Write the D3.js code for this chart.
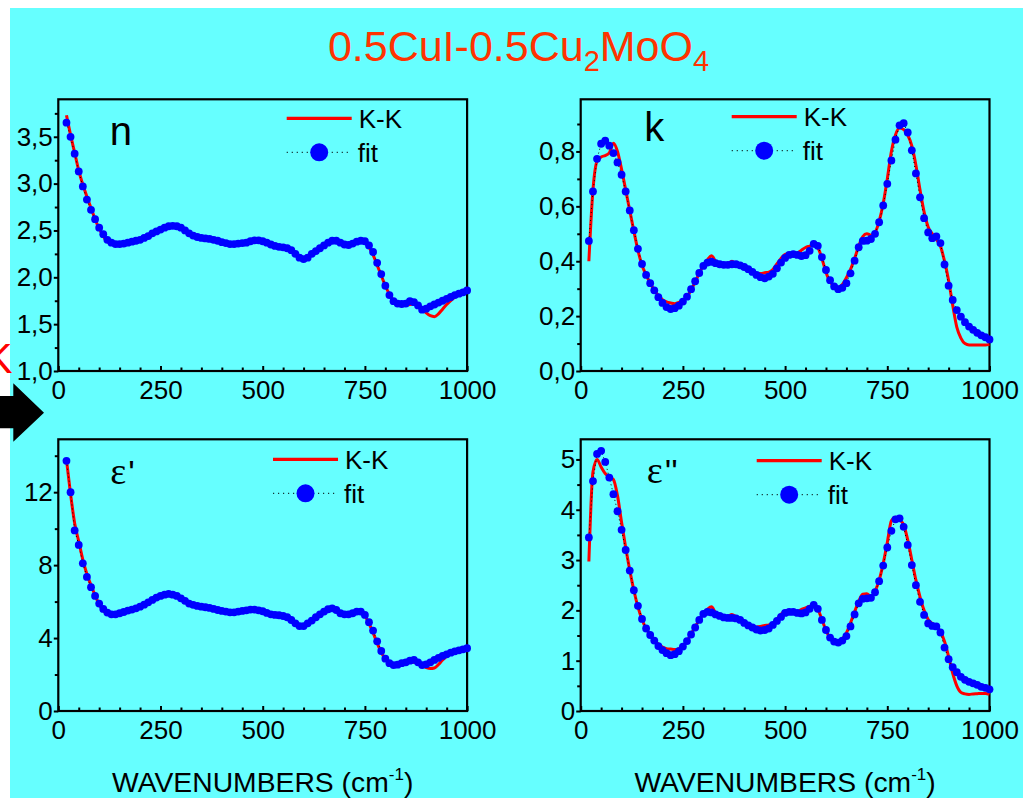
<!DOCTYPE html>
<html>
<head>
<meta charset="utf-8">
<script src="https://cdn.jsdelivr.net/npm/d3@7"></script>
<style>
  body { margin: 0; background: #ffffff; }
  svg { display: block; }
  text { font-family: "Liberation Sans", Arial, sans-serif; }
</style>
</head>
<body>
<svg id="chart" width="1023" height="798"></svg>
<script>
// Wavenumber grid (cm-1) shared by every series
const wavenumber = [
  20, 30, 40, 50, 60, 70, 80, 90, 100, 110,
  120, 130, 140, 150, 160, 170, 180, 190, 200, 210,
  220, 230, 240, 250, 260, 270, 280, 290, 300, 310,
  320, 330, 340, 350, 360, 370, 380, 390, 400, 410,
  420, 430, 440, 450, 460, 470, 480, 490, 500, 510,
  520, 530, 540, 550, 560, 570, 580, 590, 600, 610,
  620, 630, 640, 650, 660, 670, 680, 690, 700, 710,
  720, 730, 740, 750, 760, 770, 780, 790, 800, 810,
  820, 830, 840, 850, 860, 870, 880, 890, 900, 910,
  920, 930, 940, 950, 960, 970, 980, 990, 1000
];

// Refractive index n
const nFit = [
  3.65, 3.50, 3.32, 3.13, 2.97, 2.83, 2.72, 2.62, 2.53, 2.46,
  2.40, 2.37, 2.355, 2.355, 2.36, 2.37, 2.38, 2.39, 2.40, 2.42,
  2.44, 2.47, 2.49, 2.51, 2.53, 2.545, 2.55, 2.545, 2.53, 2.50,
  2.47, 2.445, 2.43, 2.42, 2.415, 2.41, 2.40, 2.39, 2.375, 2.365,
  2.355, 2.355, 2.36, 2.365, 2.37, 2.385, 2.395, 2.395, 2.385, 2.37,
  2.35, 2.335, 2.325, 2.32, 2.31, 2.29, 2.25, 2.21, 2.195, 2.21,
  2.25, 2.28, 2.31, 2.34, 2.37, 2.39, 2.39, 2.37, 2.35, 2.345,
  2.36, 2.38, 2.39, 2.385, 2.34, 2.27, 2.155, 2.035, 1.91, 1.81,
  1.745, 1.72, 1.715, 1.72, 1.745, 1.735, 1.70, 1.655, 1.665, 1.69,
  1.71, 1.73, 1.75, 1.77, 1.79, 1.81, 1.825, 1.84, 1.86
];
const nKK = [
  3.73, 3.52, 3.33, 3.14, 2.99, 2.86, 2.74, 2.62, 2.52, 2.44,
  2.38, 2.36, 2.35, 2.35, 2.355, 2.365, 2.375, 2.385, 2.40, 2.42,
  2.44, 2.465, 2.49, 2.51, 2.53, 2.545, 2.55, 2.545, 2.53, 2.50,
  2.47, 2.445, 2.43, 2.42, 2.415, 2.41, 2.40, 2.39, 2.375, 2.365,
  2.355, 2.35, 2.355, 2.36, 2.37, 2.385, 2.395, 2.395, 2.385, 2.37,
  2.35, 2.335, 2.325, 2.32, 2.31, 2.29, 2.25, 2.21, 2.19, 2.205,
  2.245, 2.28, 2.31, 2.34, 2.37, 2.385, 2.385, 2.365, 2.345, 2.34,
  2.355, 2.375, 2.39, 2.38, 2.32, 2.24, 2.13, 2.02, 1.91, 1.82,
  1.75, 1.71, 1.705, 1.705, 1.71, 1.715, 1.70, 1.66, 1.62, 1.59,
  1.58, 1.61, 1.66, 1.71, 1.75, 1.79, 1.82, 1.85, 1.89
];

// Extinction coefficient k
const kFit = [
  0.474, 0.654, 0.773, 0.828, 0.839, 0.821, 0.794, 0.760, 0.715, 0.654,
  0.585, 0.513, 0.445, 0.390, 0.350, 0.320, 0.294, 0.269, 0.248, 0.233,
  0.226, 0.229, 0.238, 0.253, 0.271, 0.298, 0.327, 0.357, 0.383, 0.395,
  0.398, 0.393, 0.389, 0.387, 0.387, 0.389, 0.389, 0.385, 0.379, 0.371,
  0.361, 0.350, 0.342, 0.338, 0.344, 0.354, 0.374, 0.395, 0.412, 0.423,
  0.426, 0.423, 0.419, 0.422, 0.438, 0.463, 0.456, 0.415, 0.368, 0.331,
  0.308, 0.298, 0.303, 0.320, 0.356, 0.402, 0.451, 0.474, 0.475, 0.481,
  0.500, 0.542, 0.603, 0.682, 0.767, 0.843, 0.895, 0.903, 0.869, 0.804,
  0.720, 0.633, 0.557, 0.505, 0.484, 0.490, 0.466, 0.388, 0.311, 0.259,
  0.222, 0.198, 0.178, 0.162, 0.150, 0.139, 0.130, 0.123, 0.115
];
const kKK = [
  0.40, 0.66, 0.765, 0.78, 0.785, 0.795, 0.83, 0.80, 0.735, 0.66,
  0.585, 0.51, 0.44, 0.385, 0.35, 0.32, 0.295, 0.275, 0.26, 0.252,
  0.248, 0.245, 0.25, 0.255, 0.27, 0.295, 0.325, 0.355, 0.385, 0.405,
  0.42, 0.40, 0.39, 0.385, 0.39, 0.40, 0.39, 0.385, 0.38, 0.375,
  0.365, 0.355, 0.355, 0.358, 0.36, 0.37, 0.39, 0.41, 0.425, 0.428,
  0.425, 0.43, 0.44, 0.45, 0.455, 0.46, 0.45, 0.41, 0.36, 0.325,
  0.31, 0.305, 0.315, 0.34, 0.37, 0.41, 0.455, 0.49, 0.50, 0.495,
  0.505, 0.545, 0.61, 0.70, 0.80, 0.86, 0.885, 0.88, 0.86, 0.82,
  0.75, 0.66, 0.58, 0.525, 0.50, 0.48, 0.455, 0.40, 0.33, 0.24,
  0.16, 0.12, 0.10, 0.095, 0.095, 0.095, 0.095, 0.095, 0.097
];

// Real part of the dielectric function
const epsRealFit = [
  13.72, 12.0, 9.90, 9.11, 8.10, 7.35, 6.79, 6.31, 5.89, 5.60,
  5.40, 5.30, 5.30, 5.36, 5.43, 5.51, 5.56, 5.63, 5.72, 5.83,
  5.96, 6.09, 6.22, 6.31, 6.38, 6.42, 6.38, 6.31, 6.18, 6.04,
  5.89, 5.82, 5.76, 5.72, 5.69, 5.65, 5.60, 5.54, 5.49, 5.45,
  5.41, 5.41, 5.45, 5.49, 5.52, 5.56, 5.56, 5.52, 5.47, 5.38,
  5.30, 5.27, 5.25, 5.21, 5.14, 4.99, 4.81, 4.66, 4.66, 4.81,
  4.96, 5.14, 5.30, 5.45, 5.58, 5.63, 5.54, 5.36, 5.30, 5.30,
  5.36, 5.45, 5.45, 5.27, 4.87, 4.41, 3.82, 3.29, 2.87, 2.62,
  2.52, 2.54, 2.62, 2.67, 2.76, 2.80, 2.67, 2.52, 2.56, 2.67,
  2.80, 2.91, 3.02, 3.11, 3.20, 3.27, 3.33, 3.38, 3.44
];
const epsRealKK = [
  13.77, 11.9, 10.3, 9.3, 8.3, 7.5, 6.9, 6.35, 5.85, 5.5,
  5.35, 5.27, 5.27, 5.33, 5.41, 5.49, 5.55, 5.62, 5.71, 5.82,
  5.95, 6.08, 6.21, 6.30, 6.37, 6.41, 6.38, 6.31, 6.18, 6.03,
  5.87, 5.80, 5.75, 5.71, 5.68, 5.64, 5.59, 5.53, 5.48, 5.44,
  5.40, 5.39, 5.43, 5.47, 5.51, 5.55, 5.55, 5.51, 5.46, 5.37,
  5.29, 5.25, 5.22, 5.18, 5.10, 4.95, 4.77, 4.62, 4.60, 4.76,
  4.93, 5.11, 5.28, 5.43, 5.56, 5.60, 5.50, 5.31, 5.24, 5.25,
  5.33, 5.42, 5.42, 5.22, 4.80, 4.30, 3.72, 3.22, 2.85, 2.62,
  2.52, 2.52, 2.57, 2.62, 2.67, 2.68, 2.60, 2.48, 2.38, 2.33,
  2.36, 2.55, 2.80, 3.00, 3.15, 3.27, 3.37, 3.46, 3.55
];

// Imaginary part of the dielectric function
const epsImagFit = [
  3.45, 4.57, 5.11, 5.17, 4.95, 4.64, 4.31, 3.97, 3.60, 3.20,
  2.79, 2.40, 2.09, 1.83, 1.64, 1.51, 1.40, 1.29, 1.21, 1.15,
  1.11, 1.13, 1.19, 1.28, 1.39, 1.52, 1.66, 1.81, 1.93, 1.97,
  1.96, 1.92, 1.89, 1.86, 1.85, 1.85, 1.84, 1.81, 1.75, 1.70,
  1.66, 1.62, 1.60, 1.61, 1.64, 1.71, 1.79, 1.87, 1.95, 1.97,
  1.97, 1.95, 1.94, 1.96, 2.03, 2.11, 2.03, 1.81, 1.61, 1.46,
  1.38, 1.36, 1.40, 1.49, 1.68, 1.92, 2.14, 2.23, 2.24, 2.25,
  2.36, 2.58, 2.89, 3.25, 3.58, 3.81, 3.83, 3.66, 3.30, 2.90,
  2.50, 2.17, 1.91, 1.74, 1.69, 1.68, 1.56, 1.26, 1.03, 0.87,
  0.77, 0.68, 0.62, 0.58, 0.55, 0.52, 0.48, 0.46, 0.43
];
const epsImagKK = [
  2.97, 4.75, 5.00, 4.85, 4.72, 4.65, 4.60, 4.28, 3.75, 3.25,
  2.80, 2.40, 2.07, 1.82, 1.64, 1.52, 1.42, 1.33, 1.27, 1.24,
  1.23, 1.22, 1.24, 1.30, 1.39, 1.53, 1.67, 1.81, 1.93, 2.02,
  2.07, 1.95, 1.89, 1.86, 1.88, 1.92, 1.87, 1.84, 1.78, 1.72,
  1.68, 1.67, 1.68, 1.70, 1.71, 1.74, 1.83, 1.92, 1.99, 2.00,
  1.98, 1.98, 2.02, 2.05, 2.08, 2.08, 2.02, 1.82, 1.60, 1.45,
  1.39, 1.38, 1.43, 1.55, 1.75, 1.97, 2.18, 2.32, 2.33, 2.28,
  2.38, 2.60, 2.93, 3.35, 3.78, 3.85, 3.80, 3.70, 3.40, 3.00,
  2.60, 2.27, 2.00, 1.82, 1.74, 1.68, 1.58, 1.38, 1.08, 0.75,
  0.50, 0.37, 0.34, 0.33, 0.34, 0.345, 0.35, 0.35, 0.33
];

// Tick values
const xTicks = [0, 250, 500, 750, 1000];
const nTicks = [1.0, 1.5, 2.0, 2.5, 3.0, 3.5];
const kTicks = [0.0, 0.2, 0.4, 0.6, 0.8];
const epsRealTicks = [0, 4, 8, 12];
const epsImagTicks = [0, 1, 2, 3, 4, 5];

const legendLabels = ["K-K", "fit"];

const commaFmt = d3.formatLocale({ decimal: ",", thousands: ".", grouping: [3], currency: ["", ""] }).format(".1f");
const intFmt = d3.format("d");

const svg = d3.select("#chart");

// Page background
svg.append("rect").attr("x", 10).attr("y", 8).attr("width", 1013).attr("height", 790).attr("fill", "#66ffff");

// Edge decorations: clipped red letter and black arrow on the left margin
svg.append("text").attr("x", 12.5).attr("y", 373).attr("text-anchor", "end")
  .attr("font-size", 42).attr("fill", "#ff0000").text("K");
svg.append("path")
  .attr("d", "M0,396 L13.3,396 L13.3,383.3 L44,412.7 L13.3,441.7 L13.3,428.3 L0,428.3 Z")
  .attr("fill", "#000");

// Title with chemical subscripts
const title = svg.append("text").attr("x", 518.5).attr("y", 61)
  .attr("text-anchor", "middle").attr("font-size", 43).attr("fill", "#ff3300");
title.append("tspan").text("0.5CuI-0.5Cu");
title.append("tspan").attr("dy", 10).attr("font-size", 29).text("2");
title.append("tspan").attr("dy", -10).text("MoO");
title.append("tspan").attr("dy", 10).attr("font-size", 29).text("4");

const panels = [
  { fit: nFit, kk: nKK, domain: [1, 3.9], ticks: nTicks, minorStep: 0.25, fmt: commaFmt,
    left: 58.3, top: 99.3, label: [{ t: "n" }], labelPos: [51.5, 45.7], legend: [228.4, 19] },
  { fit: kFit, kk: kKK, domain: [0, 0.99], ticks: kTicks, minorStep: 0.1, fmt: commaFmt,
    left: 580.7, top: 99.3, label: [{ t: "k" }], labelPos: [63.5, 41.4], legend: [151, 17.4] },
  { fit: epsRealFit, kk: epsRealKK, domain: [0, 14.9], ticks: epsRealTicks, minorStep: 2, fmt: intFmt,
    left: 58.3, top: 439.3, label: [{ t: "\u03b5", serif: true }, { t: "'" }], labelPos: [52, 45], legend: [214.7, 20] },
  { fit: epsImagFit, kk: epsImagKK, domain: [0, 5.4], ticks: epsImagTicks, minorStep: 0.5, fmt: intFmt,
    left: 580.7, top: 439.3, label: [{ t: "\u03b5", serif: true }, { t: "''" }], labelPos: [66, 44], legend: [176, 21.4] }
];

const plotW = 408.8;
const plotH = 271.7;

panels.forEach(p => {
  const g = svg.append("g").attr("transform", `translate(${p.left},${p.top})`);
  const x = d3.scaleLinear().domain([0, 1000]).range([0, plotW]);
  const y = d3.scaleLinear().domain(p.domain).range([plotH, 0]);

  // Frame
  g.append("rect").attr("width", plotW).attr("height", plotH)
    .attr("fill", "none").attr("stroke", "#000").attr("stroke-width", 2.2);

  // Bottom axis: inward ticks, minor every 50
  const xMinor = d3.range(50, 1000, 50).filter(v => v % 250 !== 0);
  g.append("g").attr("transform", `translate(0,${plotH})`)
    .call(d3.axisBottom(x).tickValues(xMinor).tickSizeInner(-3.5).tickSizeOuter(0).tickFormat(""))
    .call(s => s.select(".domain").remove());
  const xa = g.append("g").attr("transform", `translate(0,${plotH})`)
    .call(d3.axisBottom(x).tickValues(xTicks).tickSizeInner(-5).tickSizeOuter(0).tickPadding(9.5).tickFormat(intFmt))
    .call(s => s.select(".domain").remove());
  xa.selectAll("text").attr("font-size", 26).attr("font-family", "Liberation Sans, Arial, sans-serif").attr("fill", "#000");

  // Left axis: outward ticks
  const yMinor = d3.range(p.domain[0] + p.minorStep, p.domain[1], p.minorStep * 2);
  g.append("g")
    .call(d3.axisLeft(y).tickValues(yMinor).tickSizeInner(3.5).tickSizeOuter(0).tickFormat(""))
    .call(s => s.select(".domain").remove());
  const ya = g.append("g")
    .call(d3.axisLeft(y).tickValues(p.ticks).tickSizeInner(4.5).tickSizeOuter(0).tickPadding(1).tickFormat(p.fmt))
    .call(s => s.select(".domain").remove());
  ya.selectAll("text").attr("font-size", 26).attr("font-family", "Liberation Sans, Arial, sans-serif").attr("fill", "#000");
  g.selectAll(".tick line").attr("stroke", "#000").attr("stroke-width", 2);

  // Panel label
  const lab = g.append("text").attr("x", p.labelPos[0]).attr("y", p.labelPos[1]).attr("font-size", 40).attr("fill", "#000");
  p.label.forEach(part => {
    const ts = lab.append("tspan").text(part.t);
    if (part.serif) ts.attr("font-family", "Liberation Serif, Times New Roman, serif").attr("font-size", 38);
    else if (p.label.length > 1) ts.attr("font-size", 34).attr("dx", 2);
  });

  const rows = wavenumber.map((w, i) => ({ w, fit: p.fit[i], kk: p.kk[i] }));

  // K-K curve
  g.append("path").datum(rows)
    .attr("d", d3.line().x(d => x(d.w)).y(d => y(d.kk)).curve(d3.curveMonotoneX))
    .attr("fill", "none").attr("stroke", "#ff0000").attr("stroke-width", 3).attr("stroke-linejoin", "round");

  // Fit: dotted connector and markers
  g.append("path").datum(rows)
    .attr("d", d3.line().x(d => x(d.w)).y(d => y(d.fit)))
    .attr("fill", "none").attr("stroke", "#000").attr("stroke-width", 1).attr("stroke-dasharray", "1,3");
  g.append("g").selectAll("circle").data(rows).join("circle")
    .attr("cx", d => x(d.w)).attr("cy", d => y(d.fit)).attr("r", 3.9).attr("fill", "#0000ff");

  // Legend
  const lg = g.append("g").attr("transform", `translate(${p.legend[0]},${p.legend[1]})`);
  lg.append("line").attr("x1", 0).attr("x2", 65).attr("y1", 0).attr("y2", 0)
    .attr("stroke", "#ff0000").attr("stroke-width", 3.2);
  lg.append("text").attr("x", 72).attr("y", 9.5).attr("font-size", 26).attr("fill", "#000").text(legendLabels[0]);
  lg.append("line").attr("x1", 0).attr("x2", 65).attr("y1", 34).attr("y2", 34)
    .attr("stroke", "#000").attr("stroke-width", 1).attr("stroke-dasharray", "1.2,3.8");
  lg.append("circle").attr("cx", 32.5).attr("cy", 34).attr("r", 9).attr("fill", "#0000ff");
  lg.append("text").attr("x", 71).attr("y", 43.5).attr("font-size", 26).attr("fill", "#000").text(legendLabels[1]);

  // Axis title under the bottom row
  if (p.top > 300) {
    const at = g.append("text").attr("x", plotW / 2).attr("y", 352.4)
      .attr("text-anchor", "middle").attr("font-size", 28.3).attr("fill", "#000");
    at.append("tspan").text("WAVENUMBERS (cm");
    at.append("tspan").attr("dy", -12).attr("font-size", 17).text("-1");
    at.append("tspan").attr("dy", 12).text(")");
  }
});
</script>
</body>
</html>
